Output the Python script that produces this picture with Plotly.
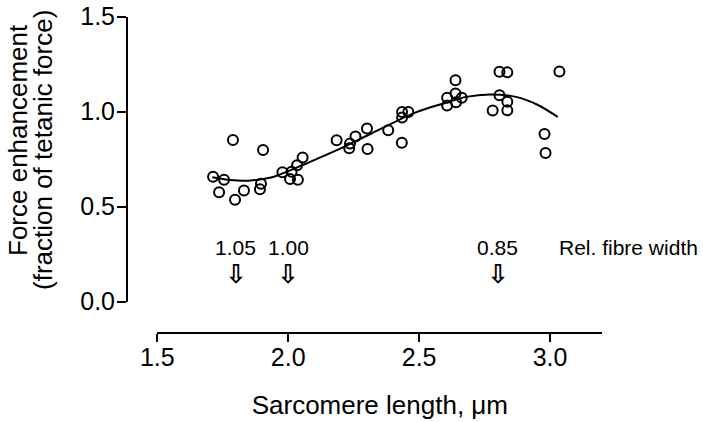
import plotly.graph_objects as go

# Measured data points (sarcomere length in um, force enhancement as fraction of tetanic force)
sarcomere_length = [
    1.713, 1.755, 1.736, 1.789, 1.797, 1.831, 1.904, 1.896, 1.892,
    1.978, 2.013, 2.034, 2.055, 2.007, 2.037,
    2.185, 2.236, 2.257, 2.233, 2.301, 2.303, 2.382, 2.434, 2.435, 2.459, 2.435,
    2.607, 2.607, 2.639, 2.639, 2.663, 2.641,
    2.807, 2.837, 2.807, 2.837, 2.781, 2.837,
    3.036, 2.979, 2.983,
]
force_enhancement = [
    0.658, 0.642, 0.576, 0.851, 0.537, 0.585, 0.799, 0.621, 0.592,
    0.681, 0.684, 0.718, 0.759, 0.646, 0.642,
    0.850, 0.832, 0.869, 0.808, 0.912, 0.804, 0.902, 0.836, 0.998, 0.998, 0.969,
    1.074, 1.032, 1.165, 1.096, 1.073, 1.050,
    1.210, 1.207, 1.087, 1.053, 1.006, 1.007,
    1.212, 0.883, 0.783,
]

# Fitted curve
curve_x = [1.71, 1.78, 1.85, 1.93, 1.97, 2.06, 2.19, 2.31, 2.49, 2.605, 2.68, 2.77, 2.87, 2.95, 3.03]
curve_y = [0.655, 0.640, 0.637, 0.652, 0.670, 0.722, 0.800, 0.880, 0.998, 1.048, 1.078, 1.091, 1.078, 1.038, 0.972]

# Relative fibre width markers
width_x = [1.8, 2.0, 2.8]
width_labels = ["1.05", "1.00", "0.85"]
width_label_y = 0.283
width_arrow_y = 0.145

x_ticks = [1.5, 2.0, 2.5, 3.0]
y_ticks = [0.0, 0.5, 1.0, 1.5]

FONT = "Liberation Sans, Arial, Helvetica, sans-serif"
W, H = 703, 422


def px_x(p):
    return p / W


def px_y(p):
    return 1 - p / H


fig = go.Figure()
fig.add_trace(go.Scatter(
    x=curve_x, y=curve_y, mode="lines",
    line=dict(color="black", width=2, shape="spline", smoothing=1.0),
    hoverinfo="skip", showlegend=False,
))
fig.add_trace(go.Scatter(
    x=sarcomere_length, y=force_enhancement, mode="markers",
    marker=dict(symbol="circle-open", size=10, color="black", line=dict(color="black", width=2)),
    showlegend=False,
))

annotations = []
for xv, lab in zip(width_x, width_labels):
    annotations.append(dict(x=xv, y=width_label_y, xref="x", yref="y", text=lab,
                            showarrow=False, font=dict(family=FONT, size=21, color="black")))
    annotations.append(dict(x=xv, y=width_arrow_y, xref="x", yref="y", text="<b>\u21e9</b>",
                            showarrow=False, font=dict(family="DejaVu Sans", size=26, color="black")))
annotations.append(dict(x=3.025, y=width_label_y, xref="x", yref="y", text="Rel. fibre width",
                        xanchor="left", showarrow=False, font=dict(family=FONT, size=21, color="black")))
annotations.append(dict(x=px_x(18), y=px_y(140), xref="paper", yref="paper",
                        text="Force enhancement", textangle=-90, xanchor="center", yanchor="middle",
                        showarrow=False, font=dict(family=FONT, size=26, color="black")))
annotations.append(dict(x=px_x(43), y=px_y(150), xref="paper", yref="paper",
                        text="(fraction of tetanic force)", textangle=-90, xanchor="center", yanchor="middle",
                        showarrow=False, font=dict(family=FONT, size=26, color="black")))

x0_px, x1_px = 157.3, 157.3 + 1.7 * 261.8
y0_px, y1_px = 301.7, 16.7

fig.update_layout(
    width=W, height=H,
    margin=dict(l=0, r=0, t=0, b=0),
    paper_bgcolor="white", plot_bgcolor="white",
    font=dict(family=FONT, color="black"),
    annotations=annotations,
    xaxis=dict(
        domain=[px_x(x0_px), px_x(x1_px)], range=[1.5, 3.2],
        anchor="free", position=px_y(333.3),
        showline=True, linecolor="black", linewidth=2,
        ticks="outside", ticklen=8, tickwidth=2, tickcolor="black",
        tickvals=x_ticks, ticktext=["1.5", "2.0", "2.5", "3.0"],
        tickfont=dict(size=25, family=FONT, color="black"),
        ticklabelstandoff=-6,
        showgrid=False, zeroline=False, automargin=False,
        title=dict(text="Sarcomere length, \u03bcm", font=dict(size=26, family=FONT, color="black"), standoff=25),
    ),
    yaxis=dict(
        domain=[px_y(y0_px), px_y(y1_px)], range=[0, 1.5],
        anchor="free", position=px_x(127),
        showline=True, linecolor="black", linewidth=2,
        ticks="outside", ticklen=9, tickwidth=2, tickcolor="black",
        tickvals=y_ticks, ticktext=["0.0", "0.5", "1.0", "1.5"],
        tickfont=dict(size=25, family=FONT, color="black"),
        ticklabelstandoff=-3,
        showgrid=False, zeroline=False, automargin=False,
    ),
)

fig.write_html("out.html", config={"displayModeBar": False},
               post_script="document.body.style.margin='0';")
